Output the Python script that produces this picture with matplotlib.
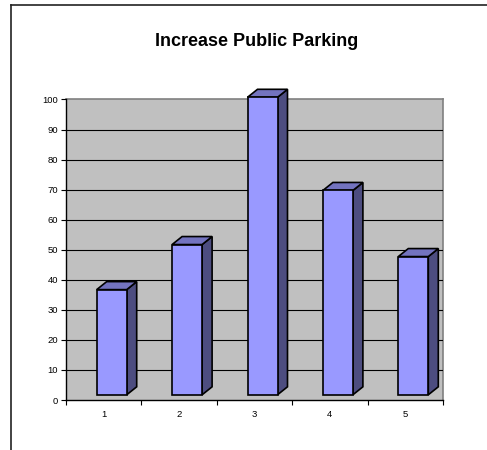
import matplotlib
matplotlib.use("Agg")
import matplotlib.pyplot as plt
from matplotlib.patches import Polygon
from matplotlib.lines import Line2D

plt.rcParams['font.family'] = ['Liberation Sans', 'DejaVu Sans']

title = "Increase Public Parking"
categories = ["1", "2", "3", "4", "5"]
values = [35, 50, 99, 68, 46]
y_ticks = [0, 10, 20, 30, 40, 50, 60, 70, 80, 90, 100]

W, H = 487, 450
fig = plt.figure(figsize=(W / 100, H / 100), dpi=100)

# plot area (back wall) in pixels
x0p, x1p = 66, 443
y0p, y1p = 99.5, 400  # top, bottom (image coords)
ax = fig.add_axes([x0p / W, (H - y1p) / H, (x1p - x0p) / W, (y1p - y0p) / H])
ax.set_facecolor('#C0C0C0')
ax.set_xlim(0.5, 5.5)
ax.set_ylim(0, 100)

# gridlines
for t in y_ticks[1:-1]:
    ax.axhline(t, color='black', lw=0.8, zorder=1)

# 3D-like bars
px_per_x = (x1p - x0p) / 5.0
px_per_y = (y1p - y0p) / 100.0
w = 30 / px_per_x
off = -7 / px_per_x
dx = 10 / px_per_x
dy = 8 / px_per_y
base = 5.2 / px_per_y
front_c = '#9999FF'
side_c = '#4D4D80'
top_c = '#7373BF'
ec = 'black'
lw = 1.2
for i, v in enumerate(values):
    c = i + 1
    xl = c + off
    xr = xl + w
    top = base + v
    side = Polygon([(xr, base), (xr + dx, base + dy), (xr + dx, top + dy), (xr, top)],
                   closed=True, facecolor=side_c, edgecolor=ec, lw=lw, zorder=3,
                   joinstyle='miter', clip_on=False)
    topf = Polygon([(xl, top), (xr, top), (xr + dx, top + dy), (xl + dx, top + dy)],
                   closed=True, facecolor=top_c, edgecolor=ec, lw=lw, zorder=3,
                   joinstyle='miter', clip_on=False)
    ax.add_patch(side)
    ax.add_patch(topf)
    bars = ax.bar(xl, v, width=w, bottom=base, align='edge', color=front_c,
                  edgecolor=ec, lw=lw, zorder=4)
    for b in bars:
        b.set_clip_on(False)

# spines
for s in ['top', 'right']:
    ax.spines[s].set_color('#808080')
    ax.spines[s].set_linewidth(1.2)
    ax.spines[s].set_zorder(0.5)
for s in ['left', 'bottom']:
    ax.spines[s].set_color('black')
    ax.spines[s].set_linewidth(1.0)

ax.set_yticks(y_ticks)
ax.set_yticklabels([str(t) for t in y_ticks])
ax.tick_params(axis='y', direction='out', length=3.6, width=0.8, pad=2,
               labelsize=6.8, colors='black')
ax.set_xticks([0.5, 1.5, 2.5, 3.5, 4.5, 5.5])
ax.set_xticklabels([])
ax.tick_params(axis='x', which='major', direction='out', length=3.6, width=0.8)
ax.set_xticks([1, 2, 3, 4, 5], minor=True)
ax.set_xticklabels(categories, minor=True)
ax.tick_params(axis='x', which='minor', length=0, pad=7, labelsize=6.8)

fig.text(257 / W, 1 - 41 / H, title, ha='center', va='center',
         fontsize=13, fontweight='bold')

# outer frame (top and left)
fig.add_artist(Line2D([11 / W, 1.0], [1 - 4.5 / H, 1 - 4.5 / H],
                      transform=fig.transFigure, color='#222222', lw=1.2))
fig.add_artist(Line2D([11 / W, 11 / W], [1 - 4.5 / H, 0.0],
                      transform=fig.transFigure, color='#222222', lw=1.2))

fig.savefig('out.png', dpi=100)
